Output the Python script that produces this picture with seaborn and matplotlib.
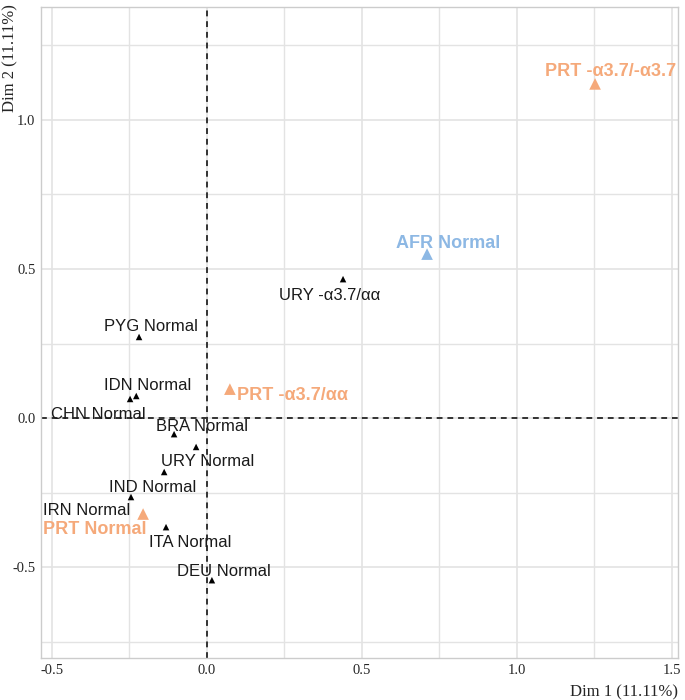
import matplotlib
matplotlib.use("Agg")
import matplotlib.pyplot as plt
import seaborn as sns
import pandas as pd
from matplotlib.ticker import MultipleLocator

labels = ["PRT -α3.7/-α3.7", "AFR Normal", "URY -α3.7/αα", "PRT -α3.7/αα",
          "PYG Normal", "IDN Normal", "CHN Normal", "BRA Normal", "URY Normal",
          "IND Normal", "IRN Normal", "PRT Normal", "ITA Normal", "DEU Normal"]
dim1 = [1.253, 0.711, 0.440, 0.075, -0.218, -0.227, -0.247, -0.105, -0.034,
        -0.137, -0.244, -0.205, -0.131, 0.017]
dim2 = [1.121, 0.550, 0.466, 0.097, 0.272, 0.074, 0.064, -0.054, -0.097,
        -0.181, -0.265, -0.322, -0.366, -0.544]
group = ["PRT", "AFR", "other", "PRT", "other", "other", "other", "other", "other",
         "other", "other", "PRT", "other", "other"]

palette = {"PRT": "#F5A97A", "AFR": "#8DB8E4", "other": "#000000"}
marker_sizes = {"PRT": 70, "AFR": 70, "other": 22}

# label offsets in pixels (layout only)
off_x = [15, 21, -13, 63, 12, 11, -32, 28, 12, -12, -44, -48, 24, 12]
off_y = [12, 11, -16, -6, 10, 10, -16, 8, -15, -15, -13, -15, -15, 9]

df = pd.DataFrame({"label": labels, "Dim1": dim1, "Dim2": dim2, "group": group})

sns.set_style("whitegrid")
plt.rcParams["font.family"] = ["Liberation Sans", "DejaVu Sans"]
plt.rcParams["axes.unicode_minus"] = False

fig = plt.figure(figsize=(6.85, 7.00), dpi=100)
ax = fig.add_axes([0.060, 0.060, 0.930, 0.930])

ax.axhline(0, color="#333333", linestyle=(0, (3, 2.5)), linewidth=1.4, zorder=1)
ax.axvline(0, color="#333333", linestyle=(0, (3, 2.5)), linewidth=1.4, zorder=1)

sns.scatterplot(data=df, x="Dim1", y="Dim2", hue="group", palette=palette,
                size="group", sizes=marker_sizes, marker="^", linewidth=0,
                legend=False, ax=ax, zorder=3)

for lab, x, y, g, dx, dy in zip(labels, dim1, dim2, group, off_x, off_y):
    bold = g != "other"
    ax.annotate(lab, (x, y), xytext=(dx, dy), textcoords="offset pixels",
                ha="center", va="center",
                fontsize=13 if bold else 12,
                fontweight="bold" if bold else "normal",
                color=palette[g] if bold else "#1a1a1a", zorder=4)

ax.set_xlim(-0.534, 1.521)
ax.set_ylim(-0.805, 1.379)
ax.xaxis.set_major_locator(MultipleLocator(0.5))
ax.yaxis.set_major_locator(MultipleLocator(0.5))
ax.xaxis.set_minor_locator(MultipleLocator(0.25))
ax.yaxis.set_minor_locator(MultipleLocator(0.25))
ax.grid(which="major", color="#e3e3e3", linewidth=1.2)
ax.grid(which="minor", color="#e3e3e3", linewidth=1.0)
ax.tick_params(which="both", length=0)
ax.tick_params(axis="both", labelsize=10.5, pad=4)
for t in ax.get_xticklabels() + ax.get_yticklabels():
    t.set_fontfamily("Liberation Serif")
for s in ax.spines.values():
    s.set_color("#cccccc")
    s.set_linewidth(1.0)

ax.set_xlabel("Dim 1 (11.11%)", loc="right", fontfamily="Liberation Serif",
              fontsize=12, labelpad=6)
ax.set_ylabel("")
fig.text(10 / 685, 1 - 4 / 700, "Dim 2 (11.11%)", rotation=90, ha="center",
         va="top", fontfamily="Liberation Serif", fontsize=12)

fig.savefig("out.png", dpi=100)
